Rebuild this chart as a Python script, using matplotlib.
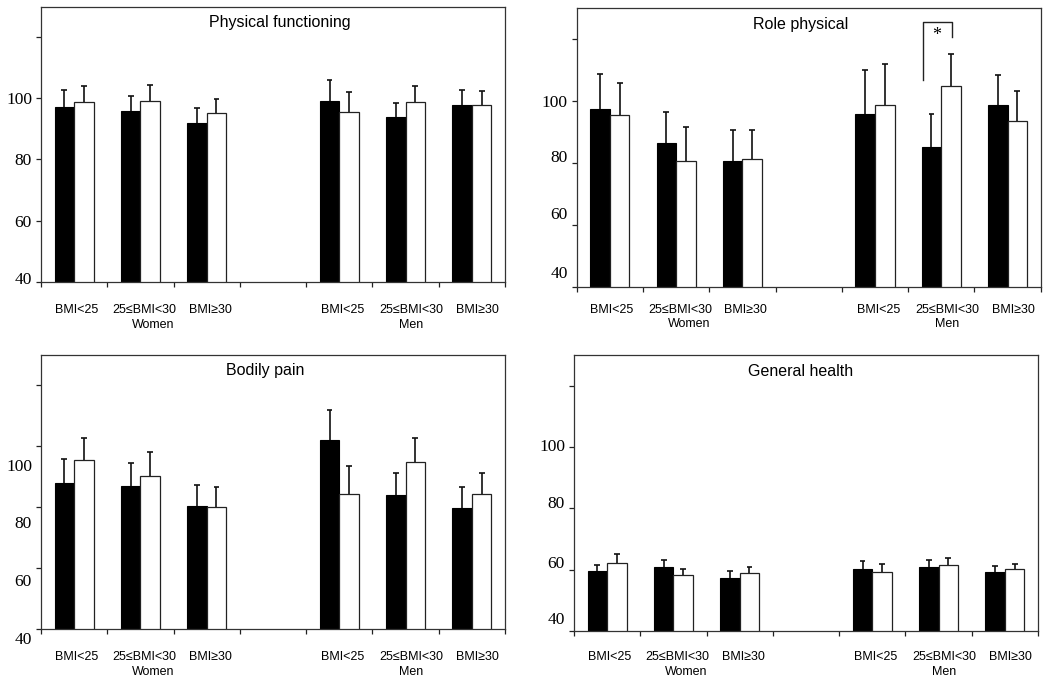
import matplotlib
matplotlib.use("Agg")
import matplotlib.pyplot as plt
import matplotlib.transforms as mtransforms
import numpy as np

# ---- data ----
bmi_labels = ["BMI<25", "25\u2264BMI<30", "BMI\u226530"]
sex_labels = ["Women", "Men"]
yticks = [40, 60, 80, 100, 120]
ytick_labels = ["40", "60", "80", "100", ""]

titles = ["Physical functioning", "Role physical", "Bodily pain", "General health"]

pf_black = [97.2, 96.0, 91.9, 99.3, 93.8, 97.7]
pf_black_err = [5.4, 4.7, 4.8, 6.7, 4.8, 4.9]
pf_white = [98.9, 99.2, 95.2, 95.5, 98.9, 97.7]
pf_white_err = [5.3, 5.3, 4.6, 6.5, 5.1, 4.7]

rp_black = [97.6, 86.5, 80.6, 95.8, 85.3, 98.6]
rp_black_err = [11.1, 10.1, 10.1, 14.2, 10.4, 9.8]
rp_white = [95.4, 80.5, 81.4, 98.6, 104.9, 93.6]
rp_white_err = [10.6, 11.2, 9.3, 13.5, 10.3, 9.6]

bp_black = [88.1, 87.1, 80.3, 102.0, 84.1, 79.7]
bp_black_err = [7.8, 7.4, 7.0, 9.9, 7.1, 7.1]
bp_white = [95.5, 90.3, 80.0, 84.3, 95.0, 84.3]
bp_white_err = [7.4, 7.7, 6.5, 9.3, 7.6, 6.9]

gh_black = [59.6, 61.0, 57.4, 60.3, 61.0, 59.2]
gh_black_err = [1.9, 2.0, 2.2, 2.5, 2.0, 2.1]
gh_white = [62.2, 58.3, 58.9, 59.1, 61.5, 60.1]
gh_white_err = [3.0, 2.0, 2.0, 2.7, 2.2, 1.7]

# significance bracket (Role physical, Men 25<=BMI<30)
sig_x = [4.73, 4.73, 5.16, 5.16]
sig_y = [106.7, 125.6, 125.6, 120.7]
sig_star = (4.925, 121.3)

panels = [
    (pf_black, pf_black_err, pf_white, pf_white_err),
    (rp_black, rp_black_err, rp_white, rp_white_err),
    (bp_black, bp_black_err, bp_white, bp_white_err),
    (gh_black, gh_black_err, gh_white, gh_white_err),
]

# ---- layout / style ----
W, H = 1050, 687
DPI = 100
fig = plt.figure(figsize=(W / DPI, H / DPI), dpi=DPI)
sans = ["Liberation Sans", "DejaVu Sans"]
serif = ["Liberation Serif", "DejaVu Serif"]

# axes boxes in pixels: left, top, right, bottom
boxes = [(41, 6.7, 505, 281.7), (576.7, 8.3, 1040.7, 286.7),
         (41, 355, 505, 629), (574, 355, 1038, 631)]
title_x = [0.515, 0.483, 0.483, 0.489]
# vertical pixel offsets of y tick labels (positive = up), for 40,60,80,100
ylab_off = [[3.3, 0, 0, 0], [15, 12, 6.7, 0], [-9, -12, -15, -19], [13, 8, 6, 2.3]]
xlab_dy = [28, 23, 28, 26]
sex_dy = [43, 37, 43, 41]

positions = np.array([0, 1, 2, 4, 5, 6])
w = 0.295
cap = 0.045


def err_up(ax, x, v, e):
    v = np.asarray(v)
    top = v + np.asarray(e)
    ax.vlines(x, v, top, color="#111111", linewidth=1.2, zorder=3)
    ax.hlines(top, x - cap, x + cap, color="#111111", linewidth=1.2, zorder=3)


for i, (b, be, wv, we) in enumerate(panels):
    l, t, r, bt = boxes[i]
    ax = fig.add_axes([l / W, 1 - bt / H, (r - l) / W, (bt - t) / H])
    ax.bar(positions - w / 2, b, width=w, color="black", edgecolor="black", linewidth=0.8)
    ax.bar(positions + w / 2, wv, width=w, color="white", edgecolor="#222222", linewidth=0.9)
    err_up(ax, positions - w / 2, b, be)
    err_up(ax, positions + w / 2, wv, we)
    ax.set_xlim(-0.5, 6.5)
    ax.set_ylim(40, 130)
    ax.set_xticks(np.arange(-0.5, 7.0, 1.0))
    ax.set_xticklabels([])
    ax.set_yticks(yticks)
    ax.set_yticklabels(ytick_labels, fontfamily=serif, fontsize=12.5)
    ax.tick_params(axis="both", direction="out", length=3.5, width=0.9, color="#222222", pad=3)
    for s in ax.spines.values():
        s.set_linewidth(0.9)
        s.set_color("#333333")
    for lab, off in zip(ax.get_yticklabels()[:4], ylab_off[i]):
        lab.set_transform(lab.get_transform() +
                          mtransforms.ScaledTranslation(0, off / DPI, fig.dpi_scale_trans))
    ax.text(title_x[i], 1 - 16 / (bt - t), titles[i], transform=ax.transAxes,
            ha="center", va="center", fontsize=11.5, family=sans)
    btrans = mtransforms.blended_transform_factory(ax.transData, ax.transAxes)
    lab_dx = [0.03, 0.06, 0.05, 0.05, 0.09, 0.085]
    for k, p in enumerate(positions):
        tr = btrans + mtransforms.ScaledTranslation(0, -xlab_dy[i] / DPI, fig.dpi_scale_trans)
        ax.text(p + lab_dx[k], 0, bmi_labels[k % 3], transform=tr, ha="center",
                va="center", fontsize=9, family=sans)
    for g, cx in enumerate([1.19, 5.09]):
        tr = btrans + mtransforms.ScaledTranslation(0, -sex_dy[i] / DPI, fig.dpi_scale_trans)
        ax.text(cx, 0, sex_labels[g], transform=tr, ha="center", va="center",
                fontsize=9, family=sans)
    if i == 1:
        ax.plot(sig_x, sig_y, color="#222222", linewidth=1.0, clip_on=False)
        ax.text(sig_star[0], sig_star[1], "*", ha="center", va="center",
                fontsize=13, family=serif)

fig.savefig("out.png", dpi=DPI)
